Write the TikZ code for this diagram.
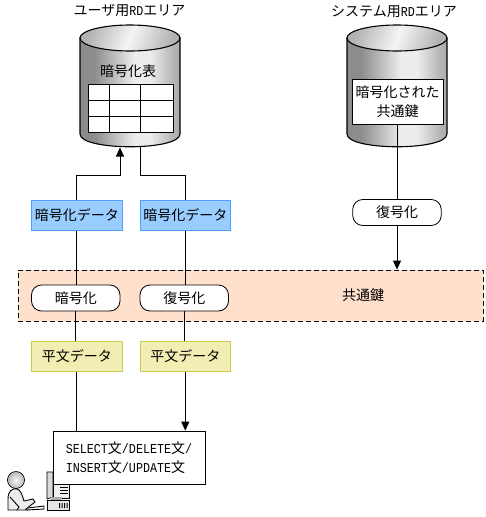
\documentclass[tikz,border=0pt]{standalone}
\usepackage{fontspec}
\setmainfont{Noto Sans CJK JP}
\newfontfamily\latinmono[FakeStretch=0.86]{Liberation Mono}
\newcommand{\hw}[1]{{\latinmono\fontsize{13.6}{19}\selectfont #1}}
\usetikzlibrary{arrows.meta}
\definecolor{bluefill}{HTML}{99CCFF}
\definecolor{blueline}{HTML}{4C9EFF}
\definecolor{yelfill}{HTML}{F2EDB3}
\definecolor{yelline}{HTML}{CCCC55}
\definecolor{peach}{HTML}{FFE0CC}
\definecolor{cyd}{gray}{0.55}
\definecolor{cym}{gray}{0.70}
\definecolor{cyl}{gray}{0.93}
\pgfdeclarehorizontalshading{cylbody}{100bp}{
 color(0bp)=(cyd);color(25bp)=(cyd);color(32bp)=(cyd);color(40bp)=(cym);
 color(52bp)=(cyl);color(60bp)=(cyl);color(72bp)=(cym);color(90bp)=(cyd);color(100bp)=(cyd)}
\tikzset{
 x=1pt,y=-1pt,
 lbl/.style={font=\fontsize{14}{19}\selectfont,inner sep=0pt},
 databox/.style={draw=blueline,fill=bluefill,line width=0.8pt,minimum width=90.5pt,minimum height=30.5pt,inner sep=0pt,lbl},
 plainbox/.style={draw=yelline,fill=yelfill,line width=0.8pt,minimum width=90.5pt,minimum height=30pt,inner sep=0pt,lbl},
 pill/.style={draw=black,fill=white,rounded corners=10pt,line width=0.8pt,minimum width=88.5pt,minimum height=26pt,inner sep=0pt,lbl},
 link/.style={draw=black,line width=0.9pt},
 tip/.style={-{Triangle[length=9pt,width=8pt]}},
 whitebox/.style={draw=black,fill=white,line width=0.8pt,inner sep=0pt},
}
\newcommand{\cylinder}[2]{% left x, right x
 \path[shade,shading=cylbody,draw=black,line width=1.1pt]
   (#1,38) -- (#1,134) .. controls (#1,151) and (#2,151) .. (#2,134) -- (#2,38) -- cycle;
 \path[left color=gray!60,right color=gray!60,middle color=white!92!gray,shading angle=70,draw=black,line width=1.1pt]
   ({(#1+#2)/2},38) ellipse[x radius=50pt,y radius=13pt];
}
\begin{document}
\begin{tikzpicture}
\useasboundingbox (0,0) rectangle (486,517);
\cylinder{80}{180}
\cylinder{347}{447}
\node[lbl] (t1) at (129.5,11) {ユーザ用\hw{RD}エリア};
\node[lbl] (t2) at (394,12) {システム用\hw{RD}エリア};
\node[lbl] (tbltitle) at (128,71) {暗号化表};
% table
\path[whitebox] (88,84) rectangle (173,132);
\draw[line width=0.8pt] (88,100) -- (173,100) (88,116) -- (173,116) (109,84) -- (109,132) (140,84) -- (140,132);
\coordinate (c1in) at (120,147.5);
\coordinate (c1out) at (140,147);
% system box
\node[whitebox,lbl,align=center,minimum width=91pt,minimum height=45pt] (key) at (397.5,101.5) {暗号化された\\共通鍵};
% band
\node[draw=black,fill=peach,line width=0.8pt,dash pattern=on 5pt off 3pt,minimum width=465pt,minimum height=51pt,inner sep=0pt] (band) at (250.75,295.5) {};
\node[lbl] (bandlbl) at (363,295) {共通鍵};
% boxes
\node[databox] (d1) at (76.75,215.5) {暗号化データ};
\node[databox] (d2) at (185.25,215.5) {暗号化データ};
\node[pill] (p1) at (75.75,298) {暗号化};
\node[pill] (p2) at (184.25,298) {復号化};
\node[pill] (p3) at (397,212.5) {復号化};
\node[plainbox] (y1) at (76.75,356.5) {平文データ};
\node[plainbox] (y2) at (185.25,356.5) {平文データ};
% user icon (behind the statement box)
\begin{scope}
\draw[line width=0.7pt,fill=gray!30] (47,472) -- (53,472) -- (53,497) -- (47,499) -- cycle;
\draw[line width=0.7pt,fill=gray!12] (53,484) rectangle (69,498);
\draw[line width=0.5pt] (60,487) -- (68,487) (60,490) -- (68,490) (60,493) -- (68,493);
\fill[gray!65] (51,497) rectangle (62,500);
\draw[line width=0.7pt,fill=gray!20] (47,500) rectangle (69,510);
\fill[black] (59,503) rectangle (60,508) (61.5,503) rectangle (62.5,508) (64,503) rectangle (65,508) (66.5,503) rectangle (67.5,508);
\shade[inner color=gray!8,outer color=gray!55,draw=black,line width=0.7pt] (16,480) circle[radius=8.5pt];
\draw[line width=0.9pt,fill=gray!15] (8,510) -- (8,499) .. controls (8,491) and (12,488) .. (17,489)
  .. controls (21,490) and (22,495) .. (24,501) -- (33,499) -- (35,502) -- (26,509) -- (27,510) -- cycle;
\draw[line width=0.9pt] (10,497) -- (19,507) -- (17,510);
\draw[line width=0.9pt] (28,508) -- (44,506) -- (44,509) -- (27,510);
\end{scope}
\node[draw=black,fill=white,line width=0.8pt,minimum width=152pt,minimum height=53pt,inner sep=0pt,align=left,font=\fontsize{14}{19}\selectfont] (sql) at (129,457.5)
 {\hw{SELECT}文\hw{/DELETE}文\hw{/}\\\hw{INSERT}文\hw{/UPDATE}文};
% connectors
\draw[link,tip] (d1.north) -- (76.75,175.5) -- (120,175.5) -- (c1in);
\draw[link] (c1out) -- (140,175.5) -- (185.25,175.5) -- (d2.north);
\draw[link] (d1.south) -- (d1.south |- p1.north);
\draw[link] (d2.south) -- (d2.south |- p2.north);
\draw[link] (p1.south) -- (p1.south |- y1.north);
\draw[link] (p2.south) -- (p2.south |- y2.north);
\draw[link] (y1.south) -- (y1.south |- sql.north);
\draw[link,tip] (y2.south) -- (y2.south |- sql.north);
\draw[link] (key.south) -- (key.south |- p3.north);
\draw[link,tip] (p3.south) -- (p3.south |- band.north);
\end{tikzpicture}
\end{document}
